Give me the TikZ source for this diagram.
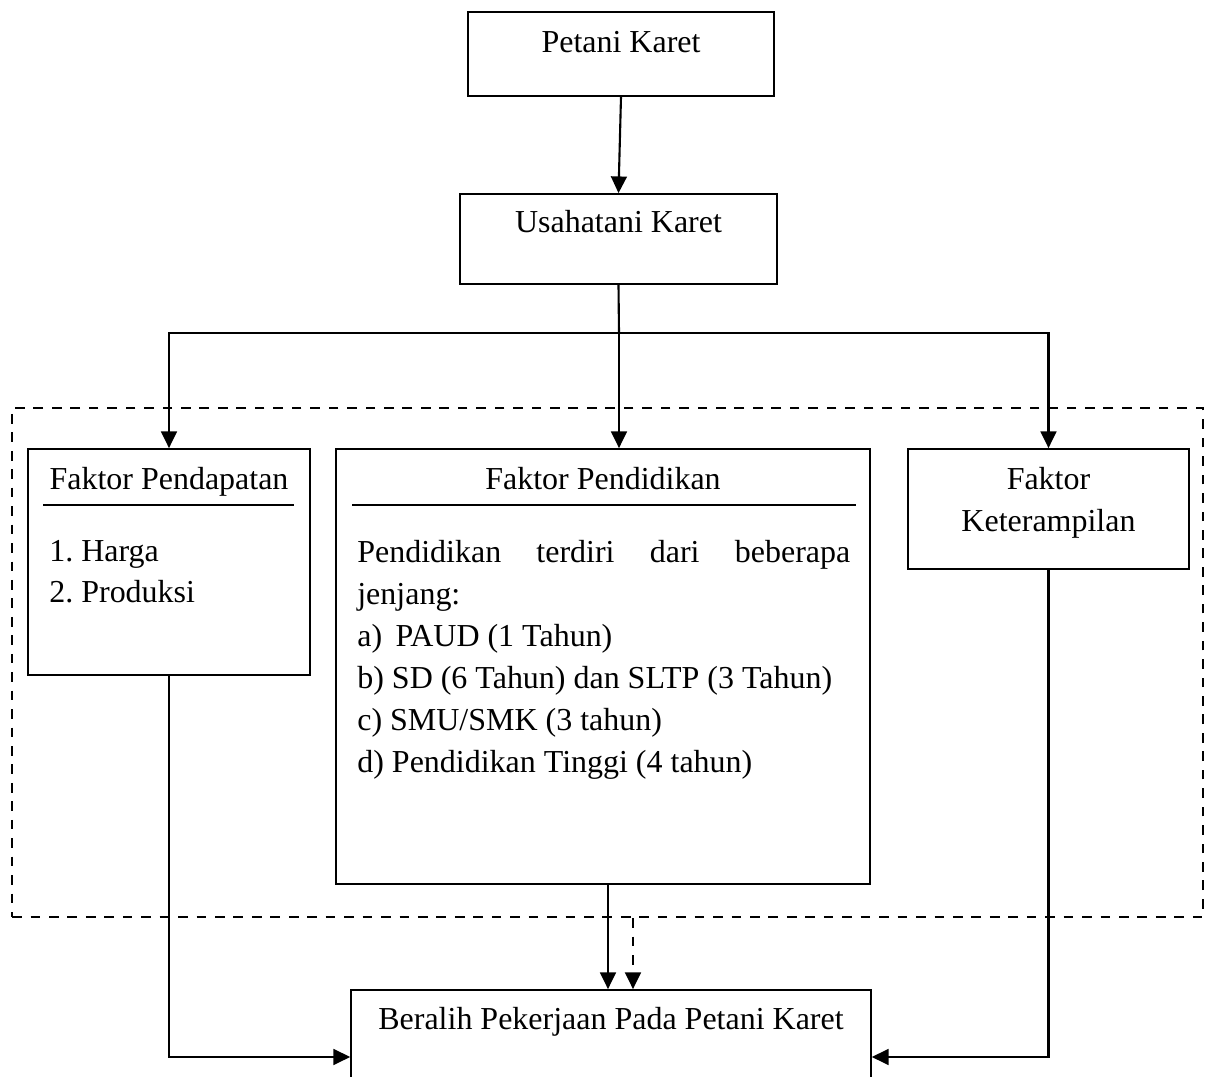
\documentclass[tikz,border=0pt]{standalone}
\usepackage{fontspec}
\setmainfont{Liberation Serif}
\usepackage{tikz}
\usetikzlibrary{arrows.meta}
\usetikzlibrary{calc}

\begin{document}
\begin{tikzpicture}[x=0.02cm, y=-0.02cm, >={Triangle[length=9.5pt,width=9pt]},
	every node/.style={font=\fontsize{18.2}{23.9}\selectfont, inner sep=0pt},
	kotak/.style={draw, line width=1pt, align=flush center},
	hubung/.style={line width=1.2pt},
	panah/.style={hubung, ->},
	putus/.style={dash pattern=on 5.5pt off 5pt, line width=1.4pt}]

	\useasboundingbox (0,0) rectangle (1205,1077);
	\clip (0,0) rectangle (1205,1077);

	% kotak atas
	\node[kotak, text width=6.12cm, text height=0.82cm, text depth=0.86cm, anchor=base] (petani) at (621,53) {Petani Karet};
	\node[kotak, text width=6.34cm, text height=0.78cm, text depth=1.02cm, anchor=base] (usaha) at (618.5,233) {Usahatani Karet};

	% batas faktor
	\node[draw, putus, minimum width=23.82cm, minimum height=10.18cm] (batas) at (607.5,662.5) {};

	% faktor-faktor
	\node[kotak, text width=5.64cm, text height=0.82cm, text depth=3.7cm, anchor=base] (pendapatan) at (169,490) {Faktor Pendapatan};
	\draw[line width=1pt] ([shift={(16,57)}]pendapatan.north west) -- ([shift={(-17,57)}]pendapatan.north east);
	\node[anchor=base west] (harga) at (49,562) {1.\ Harga};
	\node[anchor=base west] (produksi) at (49,603) {2.\ Produksi};

	\node[kotak, text width=10.68cm, text height=0.82cm, text depth=7.88cm, anchor=base] (pendidikan) at (603,490) {Faktor Pendidikan};
	\draw[line width=1pt] ([shift={(17,57)}]pendidikan.north west) -- ([shift={(-15,57)}]pendidikan.north east);
	\foreach \teks [count=\i] in {{\makebox[9.86cm][s]{Pendidikan terdiri dari beberapa}}, {jenjang:},
		{a) \,PAUD (1 Tahun)}, {b) SD (6 Tahun) dan SLTP (3 Tahun)}, {c) SMU/SMK (3 tahun)}, {d) Pendidikan Tinggi (4 tahun)}}
		\node[anchor=base west] (jenjang-\i) at (357, 521+42*\i) {\teks};

	\node[kotak, text width=5.62cm, text height=0.82cm, text depth=1.58cm, anchor=base] (keterampilan) at (1048.5,490) {Faktor\\Keterampilan};

	% kotak bawah
	\node[kotak, text width=10.4cm, text height=0.8cm, text depth=1.88cm, anchor=base] (hasil) at (611,1030) {Beralih Pekerjaan Pada Petani Karet};

	% panah
	\draw[panah] (petani.south) -- (usaha.north);
	\coordinate (cabang) at (619,333);
	\draw[hubung] (usaha.south) -- (cabang);
	\draw[panah] (cabang) -| (pendapatan.north);
	\draw[panah] (cabang) -| (keterampilan.north);
	\draw[panah] (cabang) -- (cabang |- pendidikan.north);

	\draw[panah] ([xshift=0.1cm]pendidikan.south) -- ([xshift=0.1cm]pendidikan.south |- hasil.north);
	\draw[panah, putus] ([xshift=0.51cm]batas.south) -- ([xshift=0.51cm]batas.south |- hasil.north);
	\draw[panah] (pendapatan.south) |- (hasil.west);
	\draw[panah] (keterampilan.south) |- (hasil.east);

\end{tikzpicture}
\end{document}
